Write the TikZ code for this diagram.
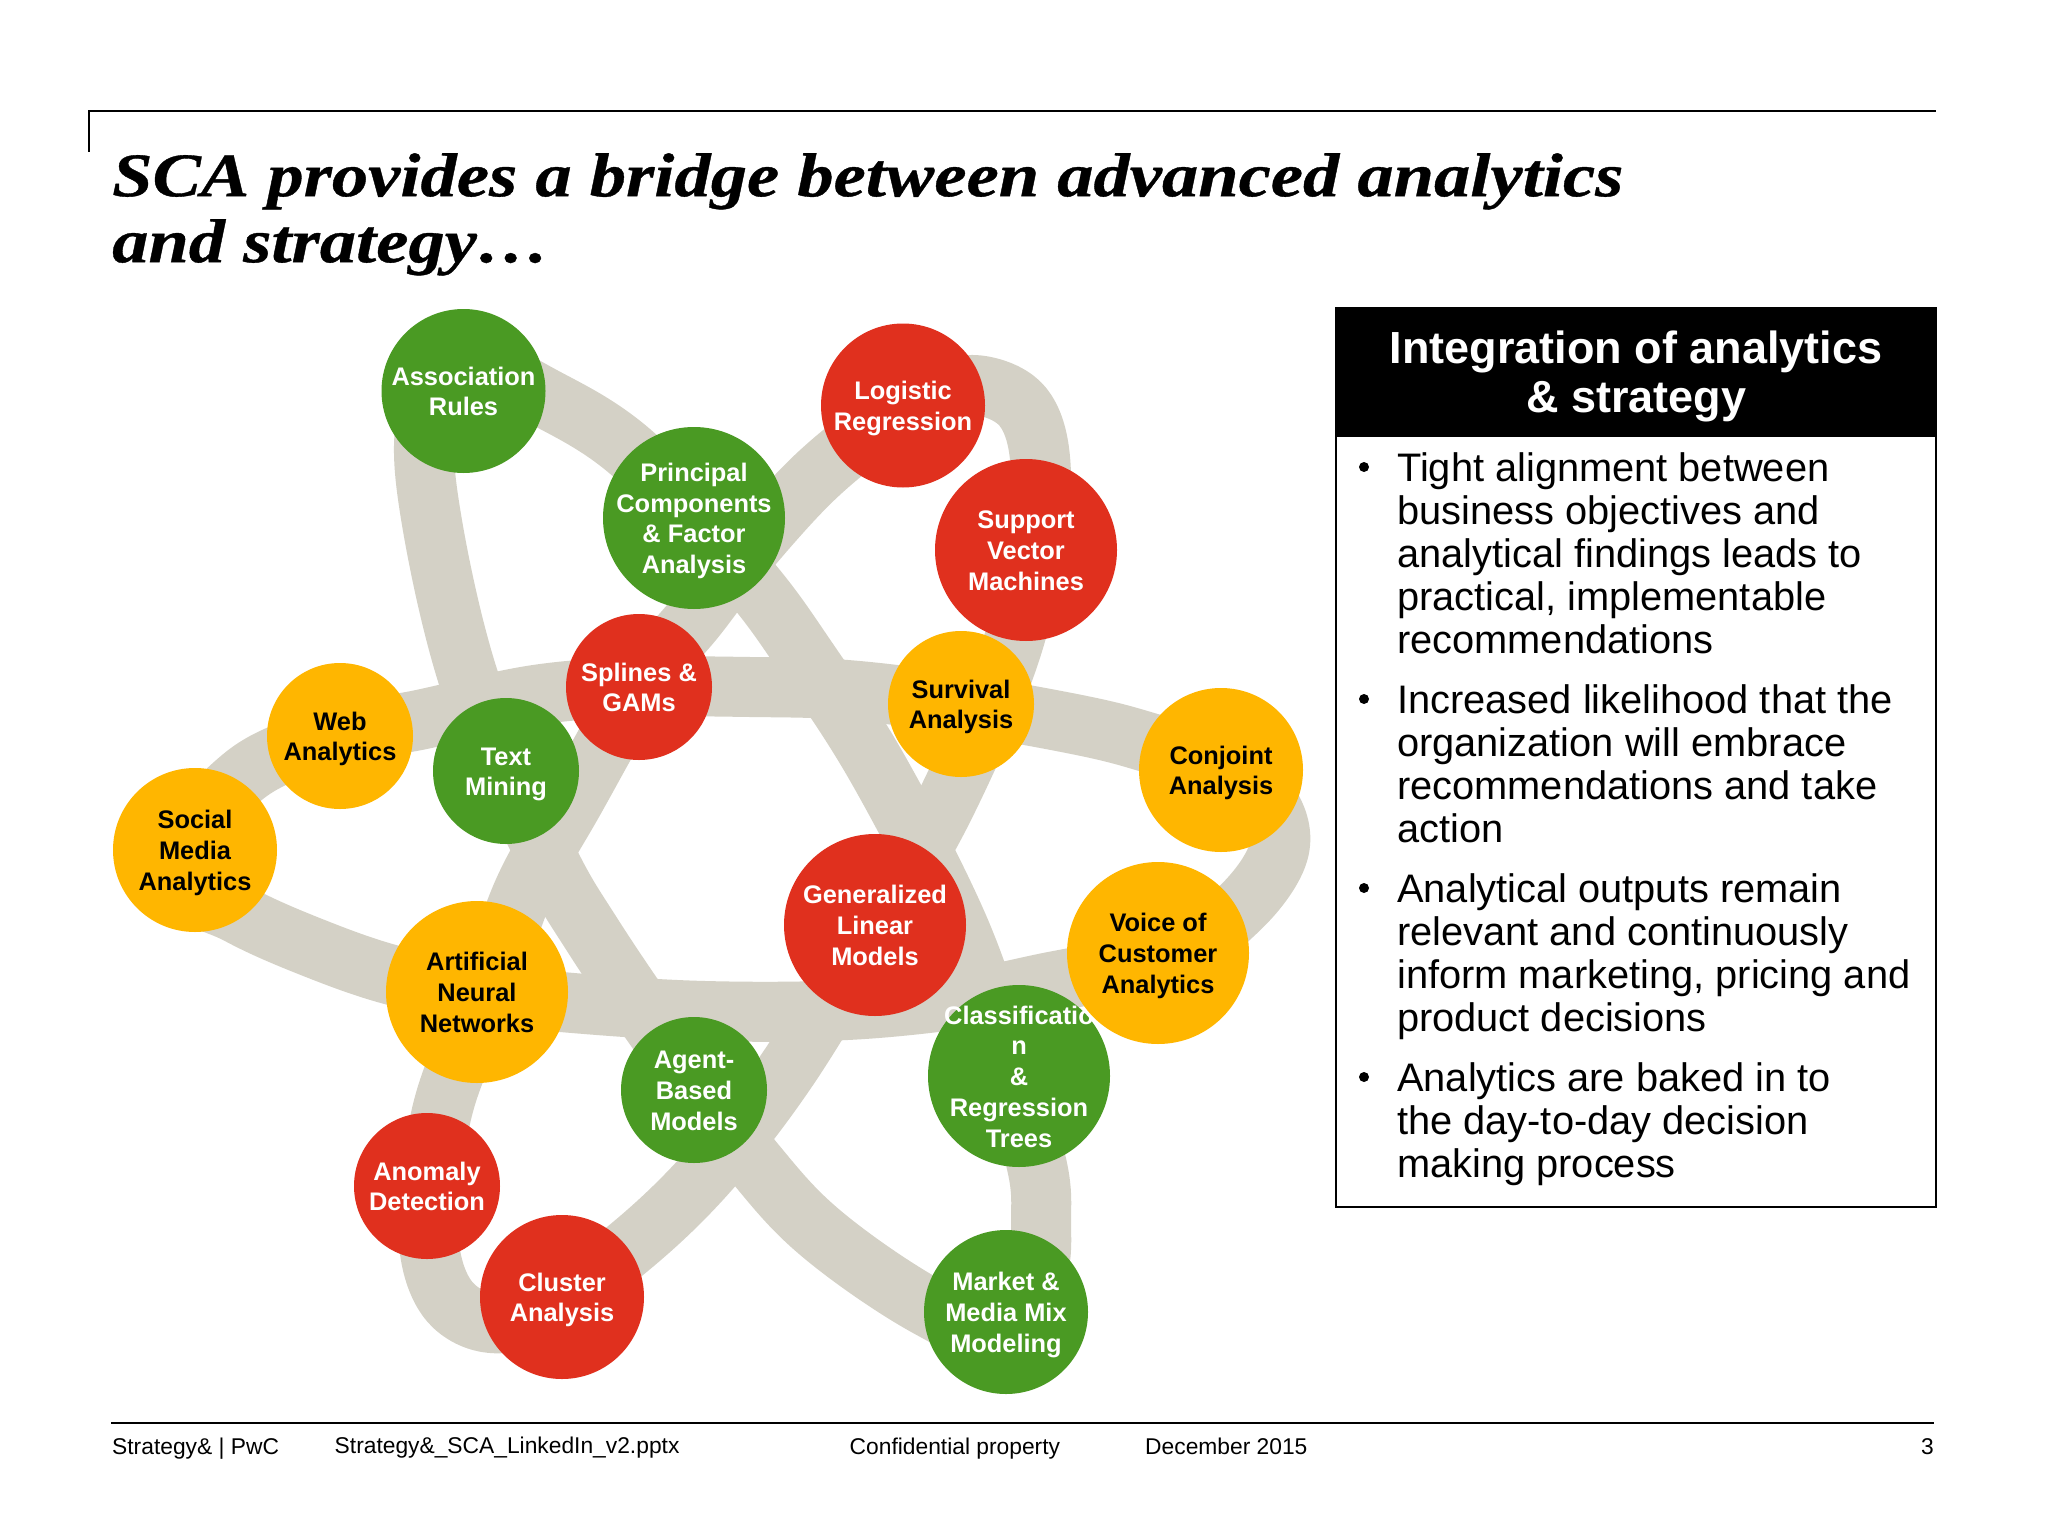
\documentclass[tikz,border=0pt]{standalone}
\usepackage{fontspec}
\setmainfont{Liberation Sans}
\newfontfamily\titlefont[FakeStretch=1.17,FakeBold=0.6]{Liberation Serif}
\newcommand\fstline{\rule{0pt}{26pt}}
\definecolor{bandc}{HTML}{D4D1C6}
\definecolor{gr}{HTML}{4A9A23}
\definecolor{rd}{HTML}{E0301E}
\definecolor{yl}{HTML}{FFB600}
\tikzset{
  band/.style={draw=bandc,line width=60pt,line join=round},
  disc/.style={circle,draw=none,inner sep=-30pt,outer sep=0pt,align=center,font=\fontsize{25.4}{30.7}\selectfont\bfseries,
    execute at end node={\rule[-6.8pt]{0pt}{6.8pt}}},
  big/.style={disc,minimum size=182pt},
  mid/.style={disc,minimum size=164pt},
  sml/.style={disc,minimum size=146pt},
  green/.style={fill=gr,text=white},
  red/.style={fill=rd,text=white},
  yellow/.style={fill=yl,text=black},
  para/.style={anchor=north west,inner sep=0pt,align=left,font=\fontsize{39.8}{43}\selectfont},
  bull/.style={circle,fill=black,inner sep=0pt,minimum size=10pt},
  foot/.style={anchor=base west,inner sep=0pt,font=\fontsize{22.8}{26}\selectfont},
}
\begin{document}
\begin{tikzpicture}[x=1pt,y=-1pt]
\useasboundingbox (0,0) rectangle (2048,1536);
\fill[white] (0,0) rectangle (2048,1536);
% top rule and title
\draw[line width=2pt] (89,152) -- (89,111) -- (1936,111);
\node[anchor=north west,inner sep=0pt,align=left,font=\titlefont\fontsize{62}{66}\selectfont\bfseries\itshape] (title) at (112,153) {SCA provides a bridge between advanced analytics\\and strategy\dots};
% ribbons
\draw[band] plot[smooth cycle,tension=0.6] coordinates {(540,395)(633,454)(745,575)(807,659)(879,771)(958,926)(1005,1060)(1037,1166)(1041,1223)(1038,1270)(1015,1340)(928,1307)(823,1235)(754,1162)(672,1052)(593,936)(544,851)(469,680)(427,490)(432,400)(470,365)};
\draw[band] plot[smooth cycle,tension=0.6] coordinates {(880,425)(812,480)(740,560)(696,617)(639,687)(573,802)(524,890)(490,985)(446,1097)(432,1180)(430,1252)(450,1302)(491,1323)(540,1310)(625,1251)(706,1174)(787,1070)(875,926)(944,807)(1008,659)(1036,540)(1040,458)(1023,407)(983,386)(940,392)};
\draw[band] plot[smooth cycle,tension=0.6] coordinates {(245,775)(340,735)(419,720)(535,695)(639,687)(750,687)(847,690)(961,704)(1084,726)(1150,743)(1215,765)(1266,800)(1279,850)(1240,908)(1170,955)(1041,984)(968,998)(847,1010)(705,1011)(573,1003)(477,992)(392,975)(314,948)(238,914)(170,870)};
% circles
\node[mid,green] (assoc) at (463.5,391) {\fstline Association\\Rules};
\node[big,green] (pca) at (694,518) {\fstline Principal\\Components\\\& Factor\\Analysis};
\node[sml,red] (spl) at (639,687) {\fstline Splines \&\\GAMs};
\node[sml,yellow] (web) at (340,736) {\fstline Web\\Analytics};
\node[sml,green] (txt) at (506,771) {\fstline Text\\Mining};
\node[mid,yellow] (soc) at (195,850) {\fstline Social\\Media\\Analytics};
\node[mid,red] (log) at (903,405.5) {\fstline Logistic\\Regression};
\node[big,red] (svm) at (1026,550) {\fstline Support\\Vector\\Machines};
\node[sml,yellow] (surv) at (961,704) {\fstline Survival\\Analysis};
\node[mid,yellow] (conj) at (1221,770) {\fstline Conjoint\\Analysis};
\node[big,red] (glm) at (875,925) {\fstline Generalized\\Linear\\Models};
\node[big,green] (cart) at (1019,1076) {\fstline Classificatio\\n\\\&\\Regression\\Trees};
\node[big,yellow] (voc) at (1158,953) {\fstline Voice of\\Customer\\Analytics};
\node[mid,green] (mmm) at (1006,1312) {\fstline Market \&\\Media Mix\\Modeling};
\node[big,yellow] (ann) at (477,992) {\fstline Artificial\\Neural\\Networks};
\node[sml,green] (abm) at (694,1090) {\fstline Agent-\\Based\\Models};
\node[sml,red] (anom) at (427,1186) {\fstline Anomaly\\Detection};
\node[mid,red] (clus) at (562,1297) {\fstline Cluster\\Analysis};
% panel
\draw[line width=2pt,fill=white] (1336,308) rectangle (1936,1207);
\node[fill=black,text=white,anchor=north west,inner sep=0pt,minimum width=600pt,minimum height=129pt,align=center,font=\fontsize{45}{49}\selectfont\bfseries] (head) at (1336,308) {\rule{0pt}{39.6pt}Integration of analytics\\\& strategy\rule[-10pt]{0pt}{10pt}};
\node[para] (p1) at (1397,452.5) {Tight alignment between\\business objectives and\\analytical findings leads to\\practical, implementable\\recommendations};
\node[para] (p2) at (1397,684.5) {Increased likelihood that the\\organization will embrace\\recommendations and take\\action};
\node[para] (p3) at (1397,873.5) {Analytical outputs remain\\relevant and continuously\\inform marketing, pricing and\\product decisions};
\node[para] (p4) at (1397,1062.5) {Analytics are baked in to\\the day-to-day decision\\making process};
\node[bull] (b1) at (1364,467) {};
\node[bull] (b2) at (1364,699) {};
\node[bull] (b3) at (1364,888) {};
\node[bull] (b4) at (1364,1077) {};
% footer
\draw[line width=2pt] (111,1423) -- (1934,1423);
\node[foot] (f1) at (112,1454) {Strategy\& | PwC};
\node[foot] (f2) at (334.5,1453) {Strategy\&\_SCA\_LinkedIn\_v2.pptx};
\node[foot] (f3) at (849.5,1454) {Confidential property};
\node[foot] (f4) at (1145,1454) {December 2015};
\node[foot,anchor=base east] (f5) at (1934,1454) {3};
\end{tikzpicture}
\end{document}
